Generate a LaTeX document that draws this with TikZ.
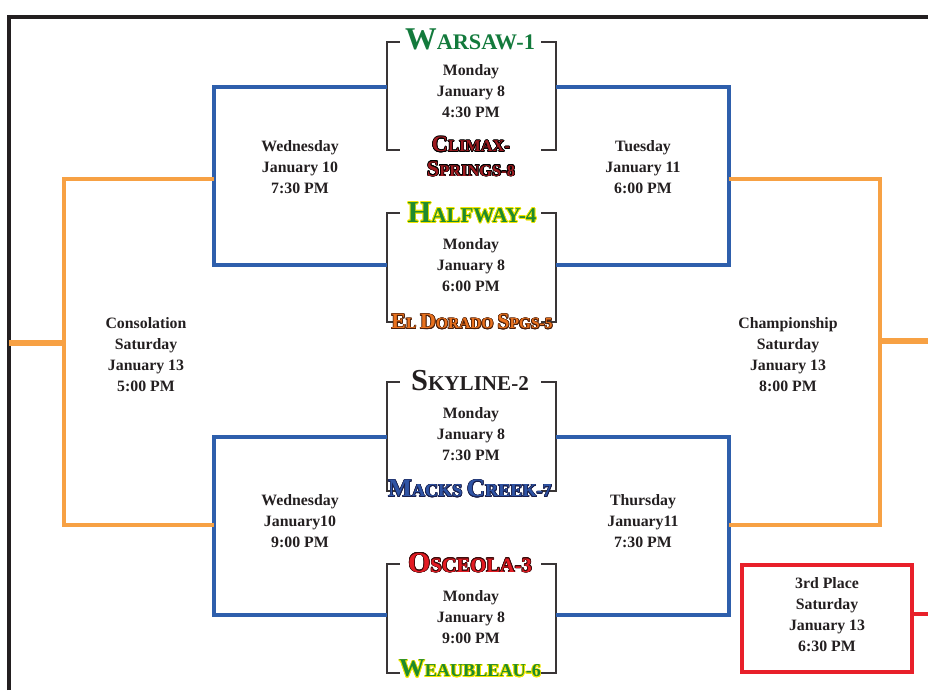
\documentclass[tikz,border=0pt]{standalone}
\usepackage{fontspec}
\setmainfont{Liberation Serif}
\usepackage[copies]{contour}
\usetikzlibrary{positioning}

\definecolor{ink}{HTML}{231F20}
\definecolor{bracketblue}{HTML}{2E5FAC}
\definecolor{finalorange}{HTML}{F7A144}
\definecolor{thirdred}{HTML}{E8202A}
\definecolor{warsawgreen}{HTML}{137A3C}
\definecolor{climaxred}{HTML}{9E1B20}
\definecolor{teamgreen}{HTML}{1F8A2E}
\definecolor{teamyellow}{HTML}{F2E600}
\definecolor{dorado}{HTML}{E8711E}
\definecolor{doradoedge}{HTML}{4A1E0A}
\definecolor{macksblue}{HTML}{2F54A5}
\definecolor{macksedge}{HTML}{1A1F4A}
\definecolor{osceolared}{HTML}{E31B23}
\definecolor{osceolaedge}{HTML}{3A0A0A}

% team names: big first letter, rest in capitals
\newcommand\tsize[2]{\def\tbig{#1}\bfseries\fontsize{#2}{1.5\dimexpr#2pt}\selectfont}
\newcommand\capw[2]{{\fontsize{\tbig}{\tbig}\selectfont #1}\MakeUppercase{#2}}
\contourlength{0.55pt}

\begin{document}
\begin{tikzpicture}[x=0.03cm,y=-0.03cm,
    every node/.style={inner sep=0pt},
    date/.style={align=center,text=ink,font=\bfseries\fontsize{13.5}{17.9}\selectfont},
    team/.style={align=center},
    gamebox/.style={minimum width=144.3pt,minimum height=92.2pt},
    bracket/.style={draw=ink!90,line width=1.4pt},
    frame/.style={draw=ink,line width=2.6pt},
    blueline/.style={draw=bracketblue,line width=2.8pt},
    orangeline/.style={draw=finalorange,line width=2.6pt},
    orangestub/.style={draw=finalorange,line width=4.6pt},
    thirdbox/.style={draw=thirdred,line width=2.8pt,minimum width=145pt,minimum height=91.3pt}]
  \useasboundingbox (0,0) rectangle (928,690);

  % frame
  \draw[frame] (9,690) -- (9,17) -- (928,17);

  % first round boxes
  \node[gamebox] (g1) at (471.5,96) {};
  \node[gamebox] (g2) at (471.5,267.5) {};
  \node[gamebox] (g3) at (471.5,436.5) {};
  \node[gamebox] (g4) at (471.5,618.5) {};
  \foreach \g in {g1,g2,g3,g4}{
    \draw[bracket] ([xshift=11pt]\g.north west) -- (\g.north west) -- (\g.south west) -- ([xshift=11pt]\g.south west);
    \draw[bracket] ([xshift=-13pt]\g.north east) -- (\g.north east) -- (\g.south east) -- ([xshift=-13pt]\g.south east);
  }

  \node[date] (d1) at (471,91) {Monday\\January 8\\4:30 PM};
  \node[date] (d2) at (471,265) {Monday\\January 8\\6:00 PM};
  \node[date] (d3) at (471,434) {Monday\\January 8\\7:30 PM};
  \node[date] (d4) at (471,617) {Monday\\January 8\\9:00 PM};

  % teams
  \node[team,text=warsawgreen,font={\tsize{27}{19}}] (t1) at (470,39) {\capw{W}{arsaw-1}};
  \node[team,text=climaxred,font={\tsize{19}{14}\baselineskip=21pt}] (t8) at (471,157)
    {\contour{black}{\capw{C}{limax-}}\\\contour{black}{\capw{S}{prings-8}}};
  \node[team,text=teamgreen,font={\tsize{26}{18}}] (t4) at (472,213) {\contourlength{0.7pt}\contour{teamyellow}{\capw{H}{alfway-4}}};
  \node[team,text=dorado,font={\tsize{18.7}{13.2}}] (t5) at (472,322)
    {\contour{doradoedge}{\capw{E}{l} \capw{D}{orado} \capw{S}{pgs-5}}};
  \node[team,text=ink,font={\tsize{26}{18}}] (t2) at (470,381) {\capw{S}{kyline-2}};
  \node[team,text=macksblue,font={\tsize{21.5}{15.5}}] (t7) at (470,489)
    {\contour{macksedge}{\capw{M}{acks} \capw{C}{reek-7}}};
  \node[team,text=osceolared,font={\tsize{24.5}{17.5}}] (t3) at (470,563) {\contour{osceolaedge}{\capw{O}{sceola-3}}};
  \node[team,text=teamgreen,font={\tsize{22}{15.5}}] (t6) at (470,669) {\contourlength{0.7pt}\contour{teamyellow}{\capw{W}{eaubleau-6}}};

  % second round
  \draw[blueline] (g1.west |- 0,87) -| (214,265) -- (g2.west |- 0,265);
  \draw[blueline] (g1.east |- 0,87) -| (729,265) -- (g2.east |- 0,265);
  \draw[blueline] (g3.west |- 0,437) -| (214,615) -- (g4.west |- 0,615);
  \draw[blueline] (g3.east |- 0,437) -| (729,615) -- (g4.east |- 0,615);

  \node[date] (s1) at (300,167) {Wednesday\\January 10\\7:30 PM};
  \node[date] (s2) at (643,167) {Tuesday\\January 11\\6:00 PM};
  \node[date] (s3) at (300,521) {Wednesday\\January10\\9:00 PM};
  \node[date] (s4) at (643,521) {Thursday\\January11\\7:30 PM};

  % finals
  \draw[orangeline] (214,179) -| (64,525) -- (214,525);
  \draw[orangeline] (729,179) -| (880,525) -- (729,525);
  \draw[orangestub] (64,343) -- (9,343);
  \draw[orangestub] (880,341) -- (928,341);

  \node[date] (cons) at (146,354.5) {Consolation\\Saturday\\January 13\\5:00 PM};
  \node[date] (champ) at (788,354.5) {Championship\\Saturday\\January 13\\8:00 PM};

  \node[thirdbox] (third) at (827,618.5) {};
  \node[date] (thirdtxt) at (827,615) {3rd Place\\Saturday\\January 13\\6:30 PM};
  \draw[draw=thirdred,line width=3.4pt] (third.east |- 0,614) -- (928,614);
\end{tikzpicture}
\end{document}
